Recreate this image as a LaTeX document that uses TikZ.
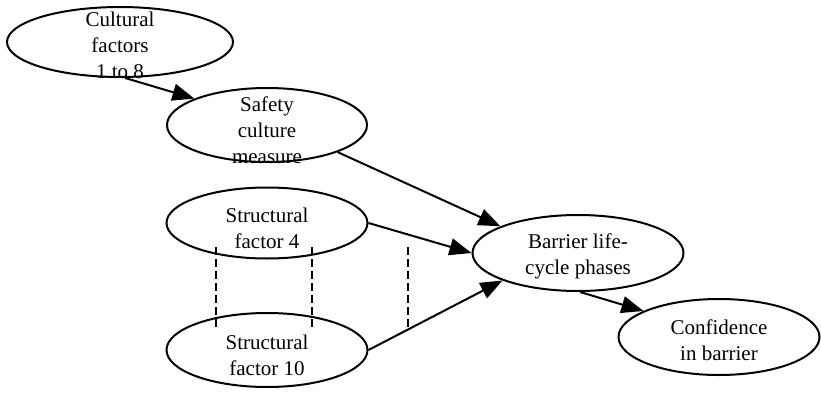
\documentclass[tikz,border=0pt]{standalone}
\usepackage{fontspec}
\setmainfont{Liberation Serif}
\usetikzlibrary{shapes.geometric,arrows.meta}
\begin{document}
\begin{tikzpicture}[x=1pt,y=1pt,
  oval/.style={draw,ellipse,line width=2pt,inner sep=0pt},
  lbl/.style={inner sep=0pt,align=center,font=\fontsize{21}{26}\selectfont},
  link/.style={line width=2pt,-{Triangle[length=22pt,width=17pt]}},
  tie/.style={line width=1.6pt,dash pattern=on 8pt off 4pt}]
\useasboundingbox (0,0) rectangle (821,392);
% ellipses
\node[oval,minimum width=226pt,minimum height=70pt] (cult) at (120,350) {};
\node[oval,minimum width=200pt,minimum height=74pt] (safe) at (267,267) {};
\node[oval,minimum width=201pt,minimum height=71pt] (s4) at (267,169) {};
\node[oval,minimum width=201pt,minimum height=74pt] (s10) at (267,42) {};
\node[oval,minimum width=211pt,minimum height=76pt] (bar) at (578,139) {};
\node[oval,minimum width=201pt,minimum height=76pt] (conf) at (719,55) {};
% texts
\node[lbl] (cultT) at (120,347) {Cultural\\factors\\1 to 8};
\node[lbl] (safeT) at (267,262) {Safety\\culture\\measure};
\node[lbl] (s4T) at (267,164) {Structural\\factor 4};
\node[lbl] (s10T) at (267,37) {Structural\\factor 10};
\node[lbl] (barT) at (578,136) {Barrier life-\\cycle phases};
\node[lbl] (confT) at (719,52) {Confidence\\in barrier};
% influence arrows
\draw[link] (cult.-82) -- (safe.160);
\draw[link] (safe.-21) -- (bar.161);
\draw[link] (s4.0) -- (bar.180);
\draw[link] (s10.0) -- (bar.-160);
\draw[link] (bar.-87) -- (conf.161);
% dashed ties between the structural factors
\coordinate (d1a) at (216,145); \coordinate (d1b) at (216,65);
\coordinate (d2a) at (312,145); \coordinate (d2b) at (312,65);
\coordinate (d3a) at (408,145); \coordinate (d3b) at (408,65);
\draw[tie] (d1a) -- (d1b);
\draw[tie] (d2a) -- (d2b);
\draw[tie] (d3a) -- (d3b);
\end{tikzpicture}
\end{document}
